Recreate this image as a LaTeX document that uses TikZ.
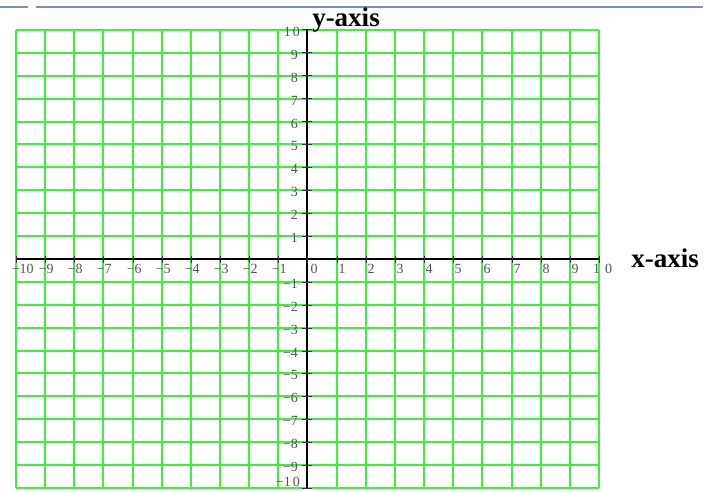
\documentclass[tikz,border=0pt]{standalone}
\usepackage{fontspec}
\setmainfont{Liberation Serif}
\definecolor{gridgreen}{RGB}{60,240,60}
\definecolor{topblue}{RGB}{125,145,180}
\definecolor{labgrey}{RGB}{85,85,85}
\tikzset{
  gridline/.style={draw=gridgreen, line width=2pt},
  axisline/.style={draw=black, line width=1.5pt},
  tickline/.style={draw=black!80, line width=1pt},
  topline/.style={draw=topblue, line width=2pt},
  ticklabel/.style={text=labgrey, inner sep=0pt, font=\fontsize{14}{14}\selectfont},
  axistitle/.style={inner sep=0pt, font=\fontsize{27}{27}\selectfont\bfseries}
}
\begin{document}
\begin{tikzpicture}[x=1pt,y=1pt]
\useasboundingbox (0,0) rectangle (717,491);
\coordinate (tl0) at (0,484);
\coordinate (tl1) at (28,484);
\coordinate (tl2) at (36,484);
\coordinate (tl3) at (703,484);
\draw[topline] (tl0) -- (tl1);
\draw[topline] (tl2) -- (tl3);
% grid, snapped to whole pixels
\foreach \k in {0,...,20} {
  \pgfmathsetmacro\cx{round(16+29.15*\k)}
  \pgfmathsetmacro\ry{491-round(30+22.9*\k)}
  \coordinate (vt\k) at (\cx,461);
  \coordinate (vb\k) at (\cx,3);
  \coordinate (hl\k) at (16,\ry);
  \coordinate (hr\k) at (599,\ry);
  \coordinate (xt\k) at (\cx,232);
  \coordinate (yt\k) at (307,\ry);
  \draw[gridline] (vt\k) -- (vb\k);
  \draw[gridline] (hl\k) -- (hr\k);
}
% axes
\draw[axisline] (xt0) -- (xt20);
\draw[axisline] (yt0) -- (yt20);
\foreach \k in {0,...,20} {
  \draw[tickline] ([yshift=-3.5pt]xt\k) -- ([yshift=3.5pt]xt\k);
}
\foreach \k in {0,...,9,11,12,...,20} {
  \draw[tickline] ([xshift=-5pt]yt\k) -- ([xshift=4.5pt]yt\k);
}
% x labels
\foreach \k in {1,...,9} {
  \pgfmathtruncatemacro\a{10-\k}
  \node[ticklabel, anchor=north west] (xn\a) at ([xshift=1.5pt,yshift=-5pt]xt\k) {\llap{−}\a};
}
\foreach \k in {11,...,19} {
  \pgfmathtruncatemacro\a{\k-10}
  \node[ticklabel, anchor=north west] (xp\a) at ([xshift=1.5pt,yshift=-5pt]xt\k) {\a};
}
\node[ticklabel, anchor=north west] (x0) at ([xshift=3.5pt,yshift=-5pt]xt10) {0};
\node[ticklabel, anchor=north west] (xp10) at ([xshift=-6pt,yshift=-5pt]xt20) {1\hspace{5pt}0};
\node[ticklabel, anchor=north west] (xn10) at ([xshift=3.5pt,yshift=-5pt]xt0) {\llap{−}10};
% y labels
\foreach \k in {1,...,9} {
  \pgfmathtruncatemacro\a{10-\k}
  \node[ticklabel, anchor=east] (yp\a) at ([xshift=-9pt,yshift=-2pt]yt\k) {\a};
}
\foreach \k in {11,...,19} {
  \pgfmathtruncatemacro\a{\k-10}
  \node[ticklabel, anchor=east] (yn\a) at ([xshift=-9pt,yshift=-2pt]yt\k) {−\a};
}
\node[ticklabel, anchor=east] (yp10) at ([xshift=-7pt,yshift=-2pt]yt0) {1\hspace{2pt}0};
\node[ticklabel, anchor=south east] (yn10) at ([xshift=-7pt,yshift=1pt]yt20) {−1\hspace{2pt}0};
% titles
\node[axistitle] (ytitle) at (346,471) {y-axis};
\node[axistitle] (xtitle) at (665,232.5) {x-axis};
\end{tikzpicture}
\end{document}
